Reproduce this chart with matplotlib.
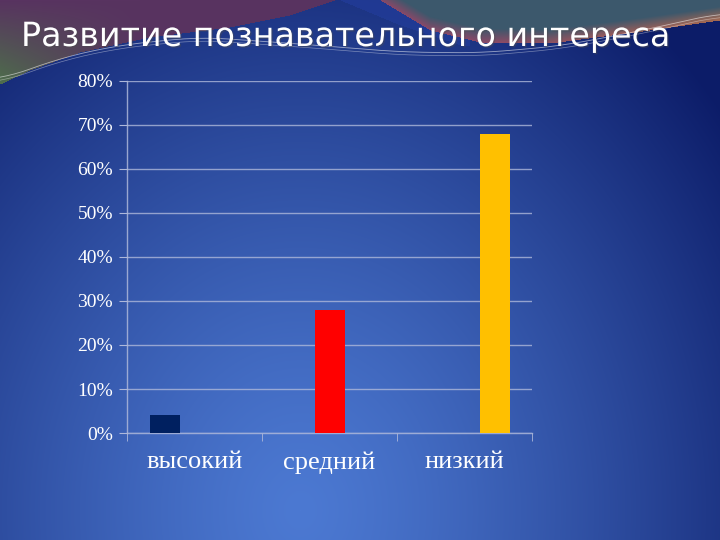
import numpy as np
import matplotlib
matplotlib.use("Agg")
import matplotlib.pyplot as plt
import matplotlib.patheffects as pe

# ---- data ----
categories = ["высокий", "средний", "низкий"]
series_names = ["высокий", "средний", "низкий"]
series_values = [
    [4, 0, 0],
    [0, 28, 0],
    [0, 0, 68],
]
series_colors = ["#002060", "#FF0000", "#FFC000"]
yticks = [0, 10, 20, 30, 40, 50, 60, 70, 80]
ytick_labels = ["0%", "10%", "20%", "30%", "40%", "50%", "60%", "70%", "80%"]
title = "Развитие познавательного интереса"

W, H = 720, 540
fig = plt.figure(figsize=(7.2, 5.4), dpi=100)

# ---- background ----
bg = fig.add_axes([0, 0, 1, 1])
bg.set_xlim(0, W)
bg.set_ylim(H, 0)
bg.axis("off")

yy, xx = np.mgrid[0:H, 0:W].astype(float)
cx, cy, rx, ry = 300.0, 510.0, 470.0, 560.0
d = np.sqrt(((xx - cx) / rx) ** 2 + ((yy - cy) / ry) ** 2)
t = np.clip(d, 0, 1.15) / 1.15
t = t ** 1.3
c_center = np.array([0x4c, 0x79, 0xd2]) / 255.0
c_edge = np.array([0x0c, 0x1c, 0x68]) / 255.0
img = c_center[None, None, :] * (1 - t[..., None]) + c_edge[None, None, :] * t[..., None]

colsx = np.arange(W, dtype=float)

# decorative top-left region (purple -> green at left)
yA = np.interp(colsx, [0, 30, 80, 150, 230, 290, 335], [84, 70, 52, 37, 27, 15, 0], right=-1)
maskA = yy < yA[None, :]
purple = np.array([0x58, 0x33, 0x60]) / 255.0
green = np.array([0x4e, 0x6c, 0x4c]) / 255.0
g = np.clip((yy / 80.0) * (1 - xx / 140.0), 0, 1)[..., None]
colA = purple[None, None, :] * (1 - g) + green[None, None, :] * g
img = np.where(maskA[..., None], colA, img)

# decorative top-right region (teal with pink/orange lower band)
yB = np.interp(colsx, [380, 430, 480, 550, 650, 720], [0, 30, 42, 43, 30, 20], left=-1)
maskB = yy < yB[None, :]
teal = np.array([0x3c, 0x58, 0x6c]) / 255.0
pink = np.array([0x8a, 0x48, 0x68]) / 255.0
orange = np.array([0xa8, 0x6a, 0x50]) / 255.0
band = np.clip(1 - (yB[None, :] - yy) / 14.0, 0, 1)[..., None]
tipc = np.clip((xx - 480) / 240.0, 0, 1)[..., None]
bandcol = pink[None, None, :] * (1 - tipc) + orange[None, None, :] * tipc
colB = teal[None, None, :] * (1 - band) + bandcol * band
img = np.where(maskB[..., None], colB, img)

# blue swoosh between the two regions
swoosh = np.array([0x22, 0x3c, 0x9a]) / 255.0
ySw = np.interp(colsx, [300, 340, 400, 460, 520], [0, 0, 25, 45, 48])
maskS = (~maskA) & (~maskB) & (yy < ySw[None, :]) & (xx > 290) & (xx < 470)
img = np.where(maskS[..., None], swoosh[None, None, :] * 0.7 + img * 0.3, img)

bg.imshow(img, extent=[0, W, H, 0], aspect="auto", zorder=0, interpolation="bilinear")

# thin white decorative curves
lx = np.linspace(0, 720, 200)
kx = [0, 60, 120, 200, 300, 400, 480, 560, 640, 720]
ky = [80, 58, 45, 37, 44, 52, 53, 46, 31, 13]
ly = np.interp(lx, kx, ky)
ly = np.convolve(np.pad(ly, 8, mode="edge"), np.ones(17) / 17, mode="valid")
bg.plot(lx, ly, color="white", lw=0.6, alpha=0.55, zorder=1)
bg.plot(lx, ly + 3, color="white", lw=0.5, alpha=0.4, zorder=1)

# ---- title ----
fig.text(21 / W, 1 - 46 / H, title, fontsize=24, color="white",
         family=["DejaVu Sans"], ha="left", va="baseline",
         path_effects=[pe.withSimplePatchShadow(offset=(1, -1), alpha=0.4)])

# ---- chart ----
ax = fig.add_axes([127 / W, 1 - 433 / H, (532 - 127) / W, (433 - 81) / H])
ax.patch.set_alpha(0)
x = np.arange(len(categories))
bw = 30 / 135
for i, (vals, col) in enumerate(zip(series_values, series_colors)):
    ax.bar(x + (i - 1) * bw, vals, width=bw, color=col, zorder=3, label=series_names[i])

ax.set_xlim(-0.5, len(categories) - 0.5)
ax.set_ylim(0, 80)
ax.set_yticks(yticks)
ax.set_yticklabels(ytick_labels)
grid_col = "#aeb8da"
ax.yaxis.grid(True, color=grid_col, lw=1, alpha=0.8, zorder=1)
ax.set_axisbelow(True)
for s in ["top", "right"]:
    ax.spines[s].set_visible(False)
for s in ["left", "bottom"]:
    ax.spines[s].set_color(grid_col)
    ax.spines[s].set_alpha(0.85)
    ax.spines[s].set_linewidth(1)

ax.set_xticks(x)
ax.set_xticklabels(categories)
ax.set_xticks(np.arange(-0.5, len(categories)), minor=True)
ax.tick_params(axis="x", which="major", length=0, pad=13, labelsize=19, labelcolor="white")
ax.tick_params(axis="x", which="minor", length=6, color=grid_col, direction="out")
ax.tick_params(axis="y", length=6, color=grid_col, direction="out", pad=4,
               labelsize=14, labelcolor="white")
for lab in ax.get_xticklabels() + ax.get_yticklabels():
    lab.set_family(["Liberation Serif", "DejaVu Serif"])

fig.savefig("out.png", dpi=100)
